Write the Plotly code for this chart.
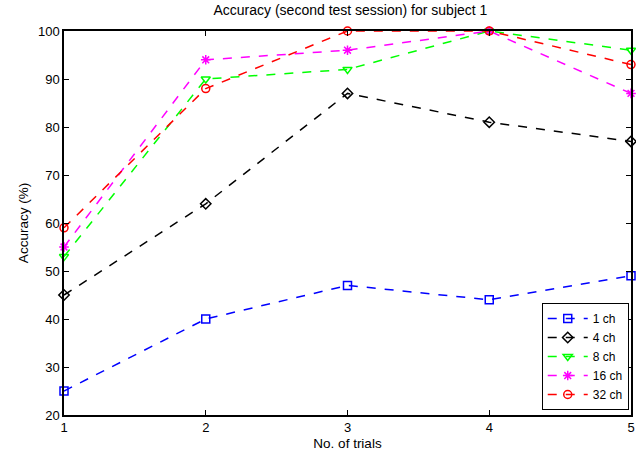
import plotly.graph_objects as go

trials = [1, 2, 3, 4, 5]
ch1 = [25, 40, 47, 44, 49]
ch4 = [45, 64, 87, 81, 77]
ch8 = [53, 90, 92, 100, 96]
ch16 = [55, 94, 96, 100, 87]
ch32 = [59, 88, 100, 100, 93]

series = [
    ("1 ch", ch1, "#0000ff", "square-open"),
    ("4 ch", ch4, "#000000", "diamond-open"),
    ("8 ch", ch8, "#00ff00", "triangle-down-open"),
    ("16 ch", ch16, "#ff00ff", "asterisk-open"),
    ("32 ch", ch32, "#ff0000", "circle-open"),
]

fig = go.Figure()
for name, vals, col, sym in series:
    fig.add_trace(go.Scatter(
        x=trials, y=vals, name=name, mode="lines+markers",
        line=dict(color=col, width=1.5, dash="dash"),
        marker=dict(symbol=sym, size=8, color=col, line=dict(color=col, width=1.5)),
        cliponaxis=False,
    ))

axis_common = dict(
    showgrid=False, zeroline=False, showline=True, linecolor="black", linewidth=1.5,
    mirror="ticks", ticks="inside", ticklen=5, tickcolor="black",
    tickfont=dict(family="Liberation Sans, Arial", size=13, color="black"),
)

fig.update_layout(
    width=636, height=457,
    margin=dict(l=64, r=1, t=31, b=42),
    paper_bgcolor="white", plot_bgcolor="white",
    font=dict(family="Liberation Sans, Arial", size=13, color="black"),
    title=dict(text="Accuracy (second test session) for subject 1", x=0.551, xanchor="center",
               y=0.978, yanchor="middle", font=dict(size=14)),
    xaxis=dict(range=[1, 5], tickvals=[1, 2, 3, 4, 5], ticklabeloverflow="allow",
               title=dict(text="No. of trials", standoff=4, font=dict(size=13.5)), **axis_common),
    yaxis=dict(range=[20, 100], tickvals=[20, 30, 40, 50, 60, 70, 80, 90, 100],
               title=dict(text="Accuracy (%)", standoff=6, font=dict(size=13.5)), **axis_common),
    legend=dict(x=0.996, y=0.013, xanchor="right", yanchor="bottom",
                bordercolor="black", borderwidth=1, bgcolor="white",
                font=dict(size=12), itemwidth=40, tracegroupgap=0),
    showlegend=True,
)

fig.write_html("out.html")
